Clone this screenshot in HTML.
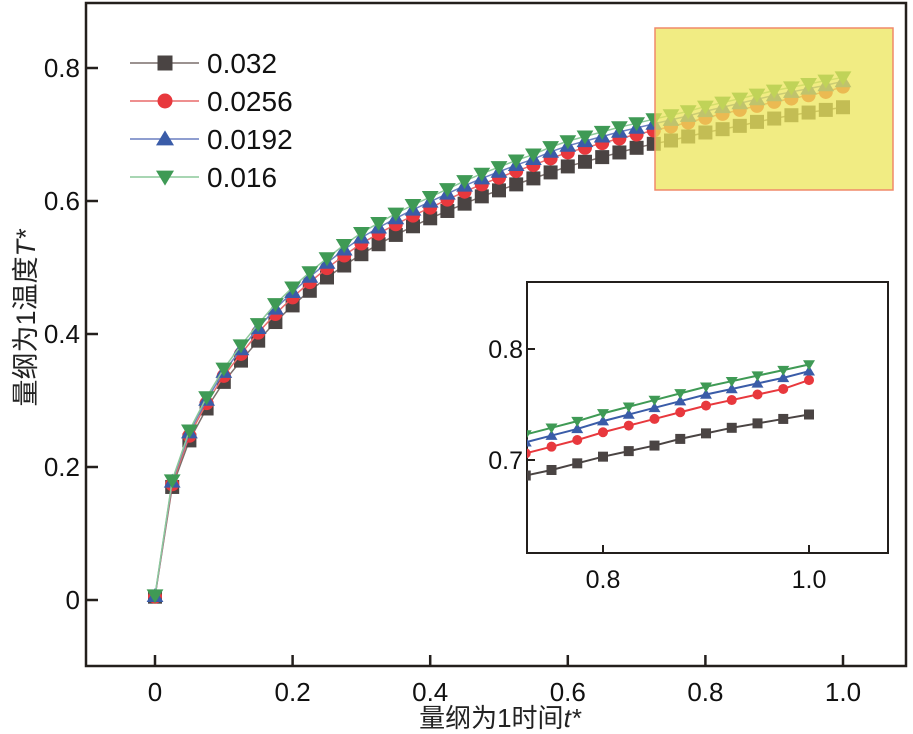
<!DOCTYPE html>
<html><head><meta charset="utf-8">
<style>
body{margin:0;background:#fff;}
svg{display:block;font-family:"Liberation Sans","Noto Sans CJK SC",sans-serif;}
</style></head>
<body>
<svg id="chart" width="913" height="734" viewBox="0 0 913 734"></svg>
<script>
const tValues = [0,0.025,0.05,0.075,0.1,0.125,0.15,0.175,0.2,0.225,0.25,0.275,0.3,0.325,0.35,0.375,0.4,0.425,0.45,0.475,0.5,0.525,0.55,0.575,0.6,0.625,0.65,0.675,0.7,0.725,0.75,0.775,0.8,0.825,0.85,0.875,0.9,0.925,0.95,0.975,1.0];
const s032 = [.005,.170,.240,.288,.328,.360,.390,.418,.443,.465,.485,.503,.520,.535,.549,.562,.574,.585,.596,.607,.616,.625,.634,.643,.652,.659,.666,.673,.680,.686,.691,.697,.703,.708,.713,.719,.724,.729,.733,.737,.741];
const s0256 = [.005,.174,.247,.296,.337,.370,.402,.430,.455,.478,.499,.518,.536,.551,.565,.578,.590,.602,.614,.625,.635,.645,.654,.664,.673,.680,.687,.694,.700,.706,.712,.718,.725,.731,.737,.743,.749,.754,.759,.764,.772];
const s0192 = [.006,.178,.252,.301,.343,.377,.409,.438,.463,.486,.507,.527,.545,.560,.574,.587,.599,.611,.623,.634,.644,.654,.663,.674,.683,.690,.697,.704,.710,.716,.722,.728,.735,.741,.747,.753,.759,.764,.769,.774,.780];
const s016 = [.007,.180,.255,.305,.348,.383,.415,.445,.470,.493,.514,.534,.552,.567,.581,.594,.606,.618,.630,.641,.651,.661,.670,.681,.690,.697,.704,.711,.717,.723,.729,.735,.742,.748,.754,.760,.766,.771,.776,.781,.786];
const seriesLabels = ["0.032","0.0256","0.0192","0.016"];
const xTicks = [0,0.2,0.4,0.6,0.8,1.0];
const xTickLabels = ["0","0.2","0.4","0.6","0.8","1.0"];
const yTicks = [0,0.2,0.4,0.6,0.8];
const yTickLabels = ["0","0.2","0.4","0.6","0.8"];
const insetXTicks = [0.8,1.0];
const insetXTickLabels = ["0.8","1.0"];
const insetYTicks = [0.7,0.8];
const insetYTickLabels = ["0.7","0.8"];

const NS="http://www.w3.org/2000/svg";
const svg=document.getElementById('chart');
function mk(tag,attrs,parent){const e=document.createElementNS(NS,tag);for(const k in attrs)e.setAttribute(k,attrs[k]);(parent||svg).appendChild(e);return e;}
const xs=t=>155+t*688;
const ys=v=>600-v*665;
const ixs=t=>603+(t-0.8)*1030;
const iys=v=>349-(v-0.8)*1110;

const styles=[
 {data:s032,line:'#7a6f6c',fill:'#4a4443',shape:'sq'},
 {data:s0256,line:'#e86a6a',fill:'#e8383d',shape:'ci'},
 {data:s0192,line:'#6a7fc0',fill:'#3a5ca8',shape:'up'},
 {data:s016,line:'#8cc89a',fill:'#3f9a55',shape:'dn'}];
function marker(g,shape,x,y,r,fill){
 let e;
 if(shape==='sq')e=mk('rect',{x:x-r,y:y-r,width:2*r,height:2*r,fill:fill},g);
 else if(shape==='ci')e=mk('circle',{cx:x,cy:y,r:r,fill:fill},g);
 else if(shape==='up')e=mk('polygon',{points:`${x},${y-r*1.15} ${x+r*1.2},${y+r*0.85} ${x-r*1.2},${y+r*0.85}`,fill:fill},g);
 else e=mk('polygon',{points:`${x},${y+r*1.15} ${x+r*1.2},${y-r*0.85} ${x-r*1.2},${y-r*0.85}`,fill:fill},g);
 return e;
}

const frame=mk('rect',{x:86,y:3,width:820,height:663,fill:'none',stroke:'#231f1c','stroke-width':2.5});


xTicks.forEach((t,i)=>{
 const tk=mk('line',{x1:xs(t),x2:xs(t),y1:666,y2:655,stroke:'#231f1c','stroke-width':2.5});
 
 const lb=mk('text',{x:xs(t),y:701,'font-size':26,'text-anchor':'middle',fill:'#111'});lb.textContent=xTickLabels[i];
 
});
yTicks.forEach((v,i)=>{
 const tk=mk('line',{x1:86,x2:98,y1:ys(v),y2:ys(v),stroke:'#231f1c','stroke-width':2.5});
 
 const lb=mk('text',{x:80,y:ys(v)+9,'font-size':26,'text-anchor':'end',fill:'#111'});lb.textContent=yTickLabels[i];
 
});
const xt=mk('text',{x:500,y:727,'font-size':26,'text-anchor':'middle',fill:'#222'});
xt.innerHTML='量纲为1时间<tspan font-style="italic">t*</tspan>';

const yt=mk('text',{x:0,y:0,'font-size':27,'text-anchor':'middle',fill:'#222',transform:'translate(35,318) rotate(-90)'});
yt.innerHTML='量纲为1温度<tspan font-style="italic">T*</tspan>';


styles.forEach((s,si)=>{
 const g=mk('g',{});
 
 const pl=mk('polyline',{points:tValues.map((t,i)=>xs(t)+','+ys(s.data[i])).join(' '),fill:'none',stroke:s.line,'stroke-width':1.5},g);
 
 tValues.forEach((t,i)=>{
  const m=marker(g,s.shape,xs(t),ys(s.data[i]),7,s.fill);
  
 });
});

const hl=mk('rect',{x:655,y:28,width:238,height:162,fill:'#ece65a','fill-opacity':0.75,stroke:'#f08a6a','stroke-width':1.5});


const lg=mk('g',{});
styles.forEach((s,si)=>{
 const y=63+si*38;
 const ge=mk('g',{},lg);
 mk('line',{x1:130,x2:199,y1:y,y2:y,stroke:s.line,'stroke-width':1.5},ge);
 marker(ge,s.shape,165,y,7.5,s.fill);
 const t=mk('text',{x:207,y:y+10,'font-size':28,fill:'#111'},ge);t.textContent=seriesLabels[si];
});

const ig=mk('g',{});
const clip=mk('clipPath',{id:'ic'},ig);mk('rect',{x:527,y:282,width:361,height:271},clip);
const ifr=mk('rect',{x:527,y:282,width:361,height:271,fill:'#fff',stroke:'#231f1c','stroke-width':2},ig);

insetXTicks.forEach((t,i)=>{
 mk('line',{x1:ixs(t),x2:ixs(t),y1:553,y2:545,stroke:'#231f1c','stroke-width':2},ig);
 const lb=mk('text',{x:ixs(t),y:588,'font-size':25,'text-anchor':'middle',fill:'#111'},ig);lb.textContent=insetXTickLabels[i];
 
});
insetYTicks.forEach((v,i)=>{
 mk('line',{x1:527,x2:535,y1:iys(v),y2:iys(v),stroke:'#231f1c','stroke-width':2},ig);
 const lb=mk('text',{x:523,y:iys(v)+9,'font-size':25,'text-anchor':'end',fill:'#111'},ig);lb.textContent=insetYTickLabels[i];
 
});
const inner=mk('g',{'clip-path':'url(#ic)'},ig);
styles.forEach((s,si)=>{
 const g=mk('g',{},inner);
 
 const idx=tValues.map((t,i)=>i).filter(i=>tValues[i]>=0.7);
 mk('polyline',{points:idx.map(i=>ixs(tValues[i])+','+iys(s.data[i])).join(' '),fill:'none',stroke:s.fill,'stroke-width':2},g);
 idx.forEach(i=>{
  const m=marker(g,s.shape,ixs(tValues[i]),iys(s.data[i]),5,s.fill);
  
 });
});
</script>
</body></html>
